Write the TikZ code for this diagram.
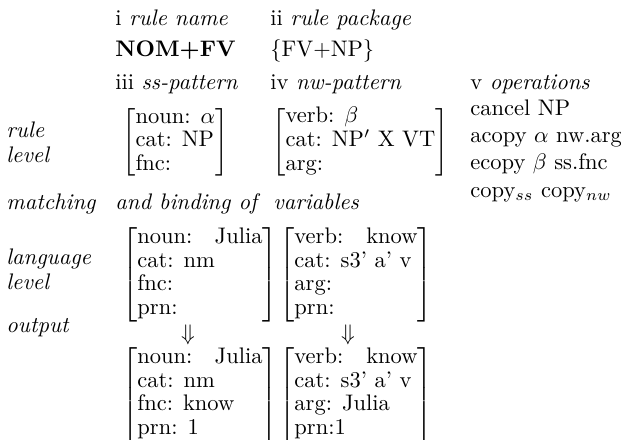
\documentclass[tikz,border=0pt]{standalone}
\usetikzlibrary{positioning}

% feature structure: a tabular between square brackets
\newcommand\fstruct[2]{$\left[\begin{tabular}{@{}#1@{}}#2\end{tabular}\right]$}
\renewcommand{\arraystretch}{0.87}

\begin{document}
\begin{tikzpicture}[x=0.4444pt,y=-0.4444pt,
	every node/.style={inner sep=0pt},
	head/.style={anchor=base west},
	lvl/.style={anchor=west,align=left,font=\itshape\fontsize{10}{11.1}\selectfont},
	fs/.style={anchor=west}]
\useasboundingbox (0,0) rectangle (621,440);

% column heads
\node[head] (name) at (115,26) {i \textit{rule name}};
\node[head] (pkg) at (270,26) {ii \textit{rule package}};
\node[head] (nameval) at (115,57) {\textbf{NOM+FV}};
\node[head] (pkgval) at (270,57) {\{FV+NP\}};
\node[head] (sshead) at (115,90) {iii \textit{ss-pattern}};
\node[head] (nwhead) at (270,90) {iv \textit{nw-pattern}};
\node[head] (ophead) at (470,90) {v \textit{operations}};

% rule level
\node[lvl] (rulelvl) at (6,142) {rule\\level};
\node[fs] (ssrule) at (122,142) {\fstruct{l}{noun: $\alpha$\\cat: NP\\fnc:}};
\node[fs] (nwrule) at (272,142) {\fstruct{l}{verb: $\beta$\\cat: NP$'$ X VT\\arg:}};
\node[anchor=north west,align=left,font=\fontsize{10}{12.2}\selectfont]
	(ops) at (470,99) {cancel NP\\acopy $\alpha$ nw.arg\\ecopy $\beta$ ss.fnc\\copy$_{ss}$ copy$_{nw}$};

% matching
\node[head,font=\itshape] (match) at (6,210) {matching};
\node[head,font=\itshape] (binding) at (115,210) {and binding of};
\node[head,font=\itshape] (vars) at (273,210) {variables};

% language level
\node[lvl] (langlvl) at (6,269) {language\\level};
\node[fs] (sslang) at (122,274.5) {\fstruct{p{55.6pt}}{noun: \hfill Julia\\cat: nm\\fnc:\\prn:}};
\node[fs] (nwlang) at (279,274.5) {\fstruct{p{54.7pt}}{verb: \hfill know\\cat: s3’ a’ v\\arg:\\prn:}};

% output
\node[head,font=\itshape] (out) at (6,333) {output};
\node (ssdown) at (188,334.5) {$\Downarrow$};
\node (nwdown) at (348,334.5) {$\Downarrow$};
\node[fs] (ssout) at (122,394.5) {\fstruct{p{55.6pt}}{noun: \hfill Julia\\cat: nm\\fnc: know\\prn: 1}};
\node[fs] (nwout) at (279,394.5) {\fstruct{p{54.7pt}}{verb: \hfill know\\cat: s3’ a’ v\\arg: Julia\\prn:1}};
\end{tikzpicture}
\end{document}
